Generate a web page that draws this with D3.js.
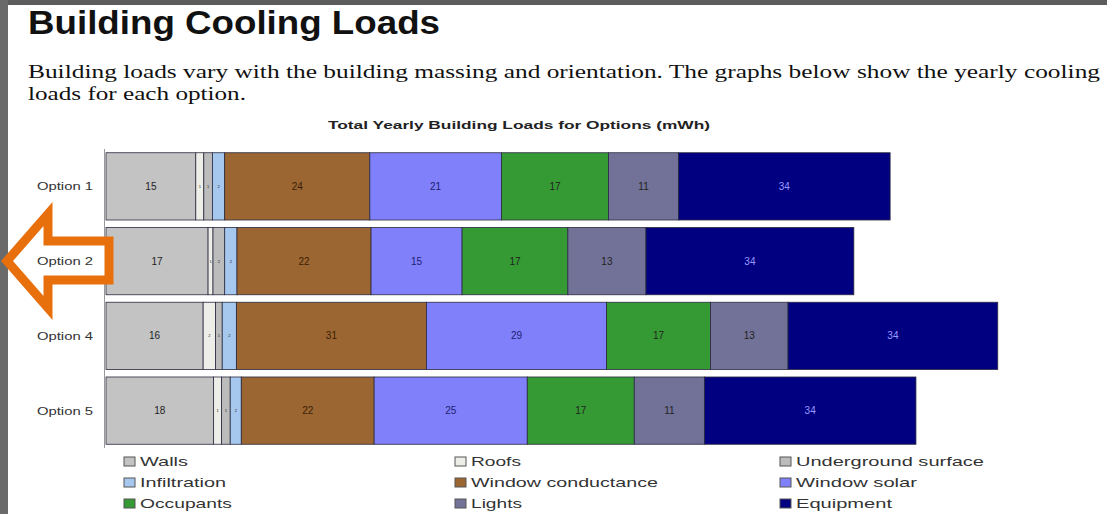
<!DOCTYPE html>
<html>
<head>
<meta charset="utf-8">
<script src="https://cdn.jsdelivr.net/npm/d3@7/dist/d3.min.js"></script>
<style>
  html, body { margin: 0; padding: 0; background: #5c5c5c; }
  svg { display: block; }
</style>
</head>
<body>
<svg id="chart" width="1107" height="514"></svg>
<script>
// ---- data ----
const options = ["Option 1", "Option 2", "Option 4", "Option 5"];
const seriesNames = ["Walls", "Roofs", "Underground surface", "Infiltration",
  "Window conductance", "Window solar", "Occupants", "Lights", "Equipment"];
const walls        = [14.6, 16.6, 15.8, 17.5];
const roofs        = [1.3, 0.8, 2.0, 1.3];
const underground  = [1.4, 1.9, 1.1, 1.4];
const infiltration = [2.0, 2.0, 2.3, 1.8];
const windowCond   = [23.6, 21.8, 30.9, 21.6];
const windowSolar  = [21.4, 14.8, 29.3, 24.9];
const occupants    = [17.4, 17.2, 16.9, 17.4];
const lights       = [11.4, 12.7, 12.6, 11.4];
const equipment    = [34.4, 33.8, 34.1, 34.4];
const seriesColors = ["#c3c3c3", "#eeeee8", "#bcbcbc", "#a6c8ee",
  "#9c6632", "#8080fb", "#369a34", "#727298", "#000080"];
const legendOrder = ["Walls", "Roofs", "Underground surface", "Infiltration",
  "Window conductance", "Window solar", "Occupants", "Lights", "Equipment"];
const heading = "Building Cooling Loads";
const bodyLines = ["Building loads vary with the building massing and orientation. The graphs below show the yearly cooling",
  "loads for each option."];
const chartTitle = "Total Yearly Building Loads for Options (mWh)";

const seriesValues = [walls, roofs, underground, infiltration, windowCond, windowSolar, occupants, lights, equipment];

// ---- build table ----
const table = options.map((o, i) => {
  const row = { option: o };
  seriesNames.forEach((s, j) => row[s] = seriesValues[j][i]);
  return row;
});
const stacked = d3.stack().keys(seriesNames)(table);

const svg = d3.select("#chart");
// white slide area
svg.append("rect").attr("x", 8).attr("y", 5).attr("width", 1099).attr("height", 509).attr("fill", "#ffffff");
svg.append("rect").attr("x", 0).attr("y", 0).attr("width", 8).attr("height", 514).attr("fill", "#6a6a6a");

// heading
svg.append("text").attr("x", 28).attr("y", 34)
  .attr("font-family", "Liberation Sans, Arial, sans-serif").attr("font-weight", "bold")
  .attr("font-size", 33).attr("fill", "#111")
  .attr("textLength", 412).attr("lengthAdjust", "spacingAndGlyphs")
  .text(heading);

const bodyWidths = [1072, 218];
svg.selectAll("text.body").data(bodyLines).enter().append("text")
  .attr("class", "body")
  .attr("x", 28).attr("y", (d, i) => 78 + i * 22)
  .attr("font-family", "Liberation Serif, Times New Roman, serif")
  .attr("font-size", 19).attr("fill", "#111")
  .attr("textLength", (d, i) => bodyWidths[i]).attr("lengthAdjust", "spacingAndGlyphs")
  .text(d => d);

// scales
const x = d3.scaleLinear().domain([0, 145]).range([106, 106 + 145 * 6.15]);
const y = d3.scaleBand().domain(options).range([149, 448]).paddingInner(0.1).paddingOuter(0.05);
const color = d3.scaleOrdinal().domain(seriesNames).range(seriesColors);

// chart title
svg.append("text").attr("x", 519).attr("y", 129).attr("text-anchor", "middle")
  .attr("font-family", "Liberation Sans, Arial, sans-serif").attr("font-weight", "bold")
  .attr("font-size", 11).attr("fill", "#222")
  .attr("textLength", 382).attr("lengthAdjust", "spacingAndGlyphs")
  .text(chartTitle);

// axis line
svg.append("line").attr("x1", 104.5).attr("x2", 104.5).attr("y1", 149).attr("y2", 448)
  .attr("stroke", "#999").attr("stroke-width", 1);

// bars
const layer = svg.append("g").selectAll("g").data(stacked).enter().append("g")
  .attr("fill", d => color(d.key));
layer.selectAll("rect").data(d => d).enter().append("rect")
  .attr("x", d => x(d[0]))
  .attr("y", d => y(d.data.option))
  .attr("width", d => x(d[1]) - x(d[0]))
  .attr("height", y.bandwidth())
  .attr("stroke", "#2a2a40").attr("stroke-width", 0.8);

// value labels
stacked.forEach(s => {
  const small = (s.key === "Roofs" || s.key === "Underground surface" || s.key === "Infiltration");
  svg.append("g").selectAll("text").data(s).enter().append("text")
    .attr("x", d => (x(d[0]) + x(d[1])) / 2)
    .attr("y", d => y(d.data.option) + y.bandwidth() / 2 + (small ? 1.5 : 3.5))
    .attr("text-anchor", "middle")
    .attr("font-family", "Liberation Sans, Arial, sans-serif")
    .attr("font-size", small ? 4 : 10)
    .attr("fill", s.key === "Equipment" ? "#9a9aff" : (s.key === "Window solar" ? "#202070" : (s.key === "Window conductance" ? "#3a1e05" : "#222")))
    .text(d => Math.round(d[1] - d[0]));
});

// orange arrow (drawn over the bar edge as in the slide)
svg.append("path")
  .attr("d", "M7,261 L48,214 L48,241 L109,241 L109,280 L48,280 L48,308 Z")
  .attr("fill", "#ffffff").attr("stroke", "#e8700c").attr("stroke-width", 9)
  .attr("stroke-linejoin", "miter");

// y axis labels
svg.append("g").selectAll("text").data(options).enter().append("text")
  .attr("x", 37).attr("y", d => y(d) + y.bandwidth() / 2 + 4)
  .attr("font-family", "Liberation Sans, Arial, sans-serif")
  .attr("font-size", 11).attr("fill", "#333")
  .attr("textLength", 56).attr("lengthAdjust", "spacingAndGlyphs")
  .text(d => d);

// legend
const legendCols = [124, 455, 780];
const legendRows = [461, 482, 503];
const legendWidths = {"Walls": 48, "Roofs": 50, "Underground surface": 188, "Infiltration": 86,
  "Window conductance": 187, "Window solar": 121, "Occupants": 92, "Lights": 51, "Equipment": 96};
const lg = svg.append("g").selectAll("g").data(legendOrder).enter().append("g")
  .attr("transform", (d, i) => `translate(${legendCols[i % 3]},${legendRows[Math.floor(i / 3)]})`);
lg.append("rect").attr("x", 0).attr("y", -4).attr("width", 11).attr("height", 9)
  .attr("fill", d => color(d)).attr("stroke", "#555").attr("stroke-width", 1);
lg.append("text").attr("x", 16).attr("y", 5)
  .attr("font-family", "Liberation Sans, Arial, sans-serif")
  .attr("font-size", 13.5).attr("fill", "#333")
  .attr("textLength", d => legendWidths[d]).attr("lengthAdjust", "spacingAndGlyphs")
  .text(d => d);
</script>
</body>
</html>
